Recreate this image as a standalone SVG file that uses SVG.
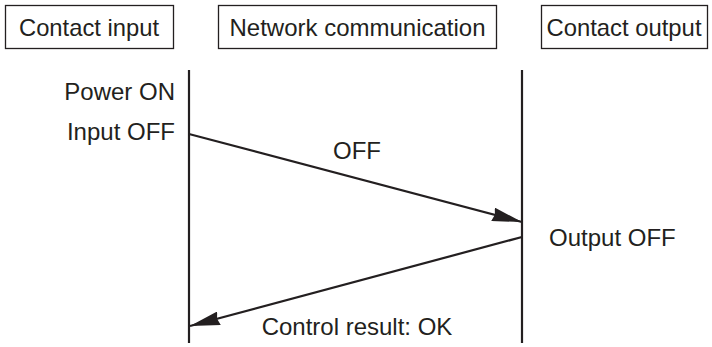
<svg xmlns="http://www.w3.org/2000/svg" width="712" height="347" viewBox="0 0 712 347">
<style>
text{font-family:"Liberation Sans",Arial,sans-serif;font-size:24px;fill:#231f20}
.box{fill:#fff;stroke:#231f20;stroke-width:1.3}
.life{stroke:#231f20;stroke-width:2.2}
.msg{stroke:#231f20;stroke-width:2.2;fill:none;marker-end:url(#ah)}
</style>
<defs>
<marker id="ah" viewBox="0 0 30 14" refX="30" refY="7" markerWidth="30" markerHeight="14" markerUnits="userSpaceOnUse" orient="auto">
<path d="M0,0 L30,7 L0,14 L2,7 Z" fill="#231f20"/>
</marker>
</defs>
<rect width="712" height="347" fill="#fff"/>
<g id="contact-input">
<rect class="box" x="5.5" y="5.5" width="168" height="43"/>
<text x="89" y="36" text-anchor="middle" textLength="140" lengthAdjust="spacingAndGlyphs">Contact input</text>
<line class="life" x1="189" y1="70" x2="189" y2="343"/>
<text x="175" y="100" text-anchor="end">Power ON</text>
<text x="175" y="140" text-anchor="end">Input OFF</text>
</g>
<g id="network-communication">
<rect class="box" x="218.5" y="5.5" width="278" height="43"/>
<text x="357.5" y="36" text-anchor="middle">Network communication</text>
</g>
<g id="contact-output">
<rect class="box" x="541.5" y="5.5" width="166" height="43"/>
<text x="624" y="36" text-anchor="middle" textLength="155" lengthAdjust="spacingAndGlyphs">Contact output</text>
<line class="life" x1="522" y1="70" x2="522" y2="343"/>
<text x="549" y="246">Output OFF</text>
</g>
<g id="connectors">
<line class="msg" x1="189" y1="134" x2="522" y2="222"/>
<text x="357" y="159" text-anchor="middle">OFF</text>
<line class="msg" x1="522" y1="237" x2="190" y2="326"/>
<text x="357" y="335" text-anchor="middle">Control result: OK</text>
</g>
</svg>
